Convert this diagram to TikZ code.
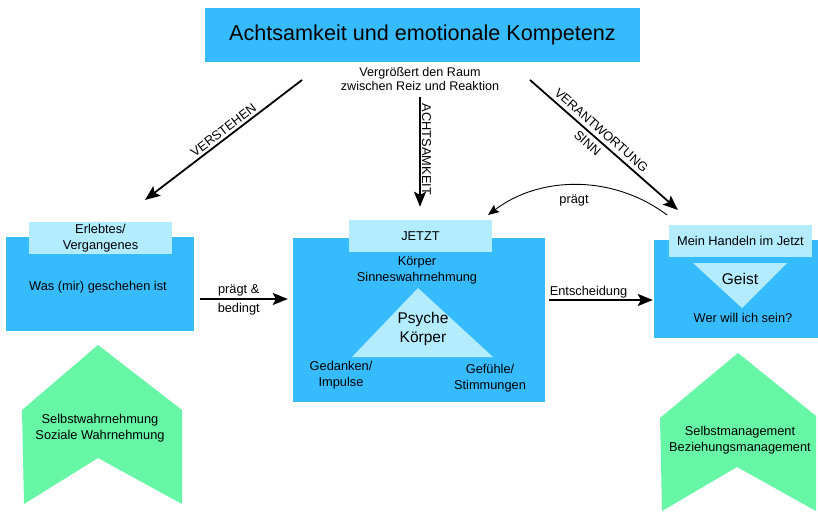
\documentclass[tikz,border=0pt]{standalone}
\usepackage{fontspec}
\setmainfont{Liberation Sans}
\usetikzlibrary{arrows.meta,positioning,calc}
\definecolor{boxblue}{RGB}{54,187,255}
\definecolor{tagblue}{RGB}{179,236,255}
\definecolor{mint}{RGB}{102,246,166}
\tikzset{
  txt/.style={font=\fontsize{12.8}{15.5}\selectfont, align=center, inner sep=1pt},
  bigtxt/.style={font=\fontsize{15.5}{19}\selectfont, align=center, inner sep=1pt},
  mainbox/.style={fill=boxblue, inner sep=0pt},
  tagbox/.style={fill=tagblue, inner sep=0pt, minimum width=143pt, minimum height=32pt,
    font=\fontsize{12.8}{15.5}\selectfont, align=center},
  arr/.style={line width=1.8pt, -{Stealth[length=15pt,width=12pt,inset=3pt]}},
  thinarr/.style={line width=0.9pt, -{Stealth[length=11pt,width=9pt,inset=2pt]}}
}
\begin{document}
\begin{tikzpicture}[x=1pt,y=-1pt]
\useasboundingbox (0,0) rectangle (818,511);
\clip (0,0) rectangle (818,511);

\node[mainbox, minimum width=435pt, minimum height=54pt,
  font=\fontsize{21.6}{26}\selectfont] (title) at (422.5,35) {Achtsamkeit und emotionale Kompetenz};
\node[txt, font=\fontsize{12.6}{14}\selectfont] (raum) at (420,79) {Vergrößert den Raum\\zwischen Reiz und Reaktion};

\node[mainbox, minimum width=188pt, minimum height=94pt] (past) at (100,284) {};
\node[tagbox] (pasttag) at (100.5,238) {Erlebtes/\\Vergangenes};
\node[txt] (pasttxt) at (98,287) {Was (mir) geschehen ist};

\node[mainbox, minimum width=252pt, minimum height=164pt] (now) at (419,320) {};
\node[tagbox] (nowtag) at (420.5,236) {JETZT};
\node[txt, font=\fontsize{12.8}{16}\selectfont] (sinne) at (417,270) {Körper\\Sinneswahrnehmung};
\fill[tagblue] (418,288) -- (493,357) -- (352,357) -- cycle;
\node[bigtxt] (psyche) at (423,328.5) {Psyche\\Körper};
\node[txt] (gedanken) at (341,375) {Gedanken/\\Impulse};
\node[txt] (gefuehle) at (490,378) {Gefühle/\\Stimmungen};

\node[mainbox, minimum width=164pt, minimum height=98pt] (future) at (736,289) {};
\node[tagbox] (futuretag) at (740.5,241) {Mein Handeln im Jetzt};
\fill[tagblue] (693,263) -- (787,263) -- (742,308) -- cycle;
\node[bigtxt] (geist) at (740,279) {Geist};
\node[txt] (wer) at (743,318) {Wer will ich sein?};

\fill[mint] (98,345) -- (182,410) -- (182,504) -- (98,458) -- (24,504) -- (22,410) -- cycle;
\node[txt] (wahrnehmung) at (100,428) {Selbstwahrnehmung\\Soziale Wahrnehmung};
\fill[mint] (738,353) -- (816,416) -- (816,511) -- (737,467) -- (662,511) -- (660,418) -- cycle;
\node[txt] (management) at (740,440) {Selbstmanagement\\Beziehungsmanagement};

\coordinate (verst1) at (302,80);
\coordinate (verst2) at (145,200);
\coordinate (verant1) at (530,80);
\coordinate (verant2) at (678,210);
\coordinate (praegt1) at (667,215);
\coordinate (praegt2) at (488,215);
\coordinate (lvlpast) at (0,299);
\coordinate (lvlnow) at (0,300);

\draw[arr] (verst1) -- node[txt, sloped, above=1.5pt, pos=0.47] {VERSTEHEN} (verst2);
\draw[arr, shorten <=5pt, shorten >=13pt] (raum.south) -- (raum.south |- nowtag.north)
  node[txt, rotate=-90, anchor=south, pos=0.45] {ACHTSAMKEIT};
\draw[arr] (verant1) -- node[txt, sloped, above=3pt, pos=0.44] {VERANTWORTUNG}
  node[txt, sloped, below=3pt, pos=0.43] {SINN} (verant2);
\draw[thinarr] (praegt1) .. controls (614,175) and (541,175) .. (praegt2);
\node[txt] (praegtlbl) at (574,200) {prägt};
\draw[arr] ($(past.east |- lvlpast)+(6,0)$) -- node[txt, above=0.5pt, pos=0.44] {prägt \&}
  node[txt, below=2pt, pos=0.44] {bedingt} ($(now.west |- lvlpast)+(-5,0)$);
\draw[arr] ($(now.east |- lvlnow)+(4,0)$) -- node[txt, above, pos=0.38, inner sep=0.5pt] {Entscheidung} ($(future.west |- lvlnow)+(-1,0)$);
\end{tikzpicture}
\end{document}
